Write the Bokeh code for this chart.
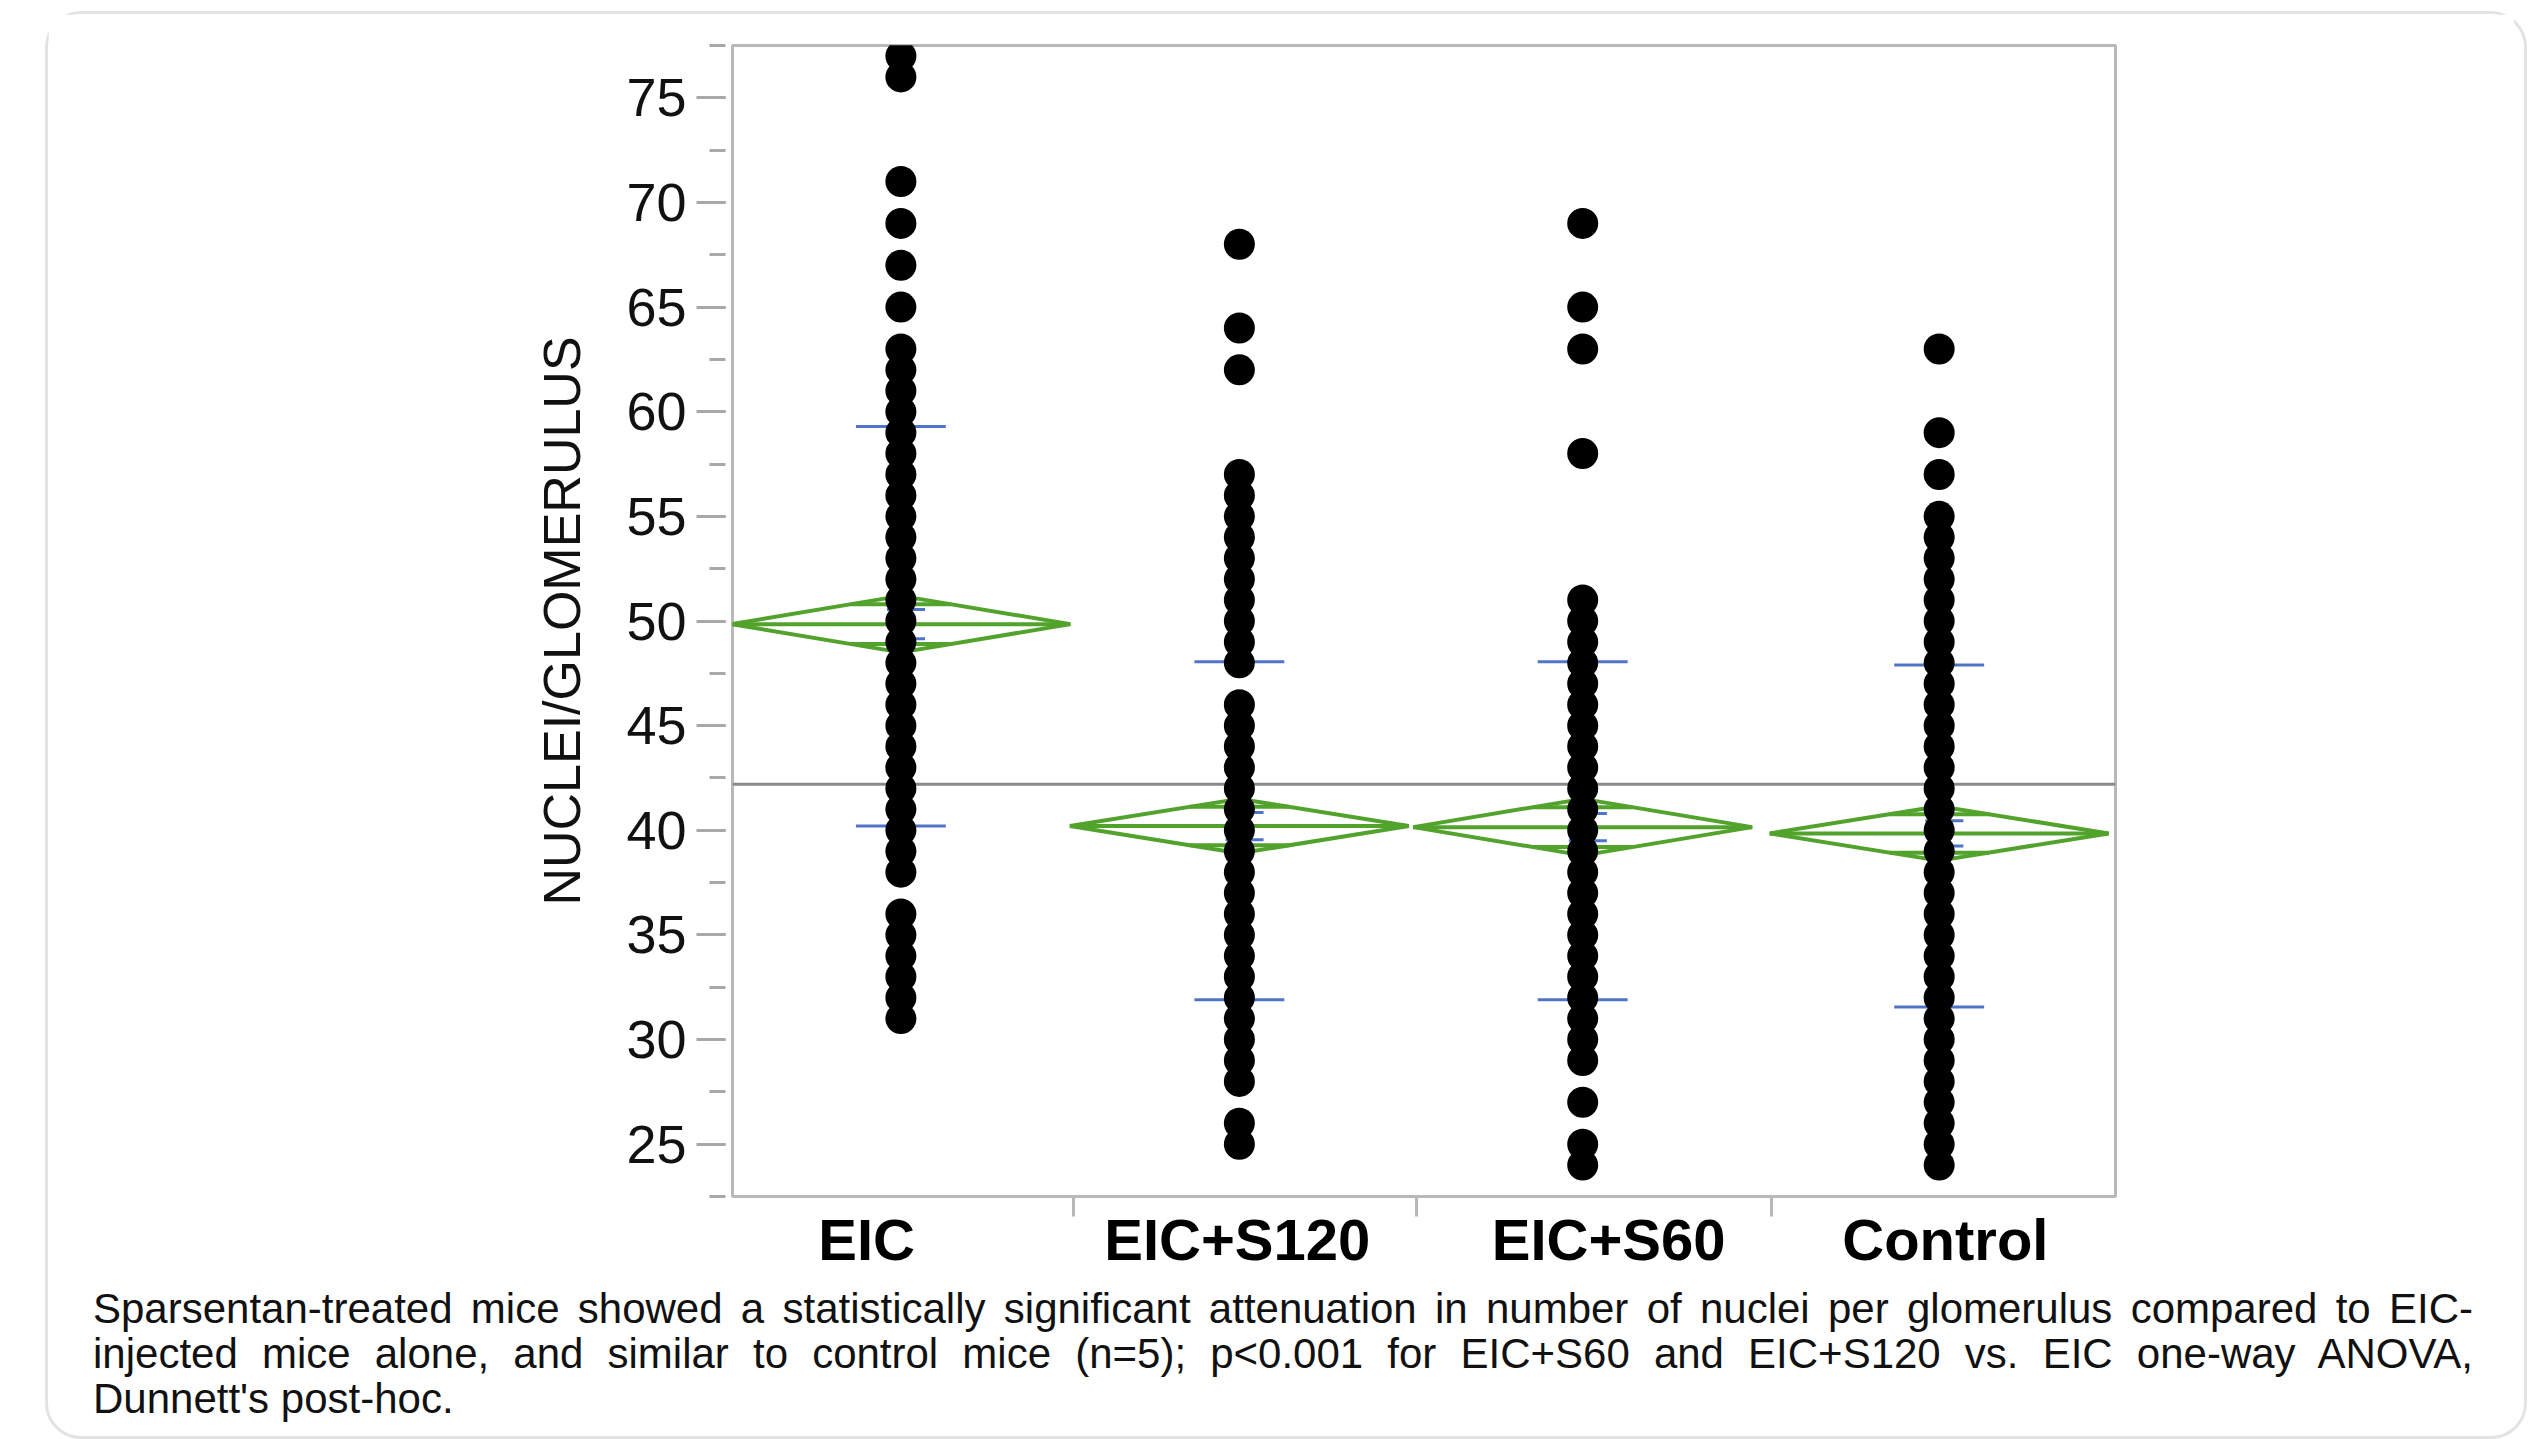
import numpy as np
from bokeh.plotting import figure
from bokeh.models import Range1d, LinearAxis, FixedTicker, SingleIntervalTicker, Div, ColumnDataSource
from bokeh.layouts import column
from bokeh.embed import file_html
from bokeh.resources import INLINE

# ---------------- data ----------------
groups = ["EIC", "EIC+S120", "EIC+S60", "Control"]

eic_values = [31, 32, 33, 34, 35, 36, 38, 39, 40, 41, 42, 43, 44, 45, 46, 47, 48, 49, 50,
              51, 52, 53, 54, 55, 56, 57, 58, 59, 60, 61, 62, 63, 65, 67, 69, 71, 76, 77, 78]
s120_values = [25, 26, 28, 29, 30, 31, 32, 33, 34, 35, 36, 37, 38, 39, 40, 41, 42, 43, 44,
               45, 46, 48, 49, 50, 51, 52, 53, 54, 55, 56, 57, 62, 64, 68]
s60_values = [24, 25, 27, 29, 30, 31, 32, 33, 34, 35, 36, 37, 38, 39, 40, 41, 42, 43, 44,
              45, 46, 47, 48, 49, 50, 51, 58, 63, 65, 69]
control_values = [24, 25, 26, 27, 28, 29, 30, 31, 32, 33, 34, 35, 36, 37, 38, 39, 40, 41,
                  42, 43, 44, 45, 46, 47, 48, 49, 50, 51, 52, 53, 54, 55, 57, 59, 63]
group_values = [eic_values, s120_values, s60_values, control_values]

means = [49.85, 40.2, 40.15, 39.85]
ci_hi = [51.2, 41.5, 41.5, 41.15]
ci_lo = [48.5, 38.9, 38.8, 38.55]
sd_hi = [59.3, 48.05, 48.05, 47.9]
sd_lo = [40.2, 31.9, 31.9, 31.55]
se_hi = [50.55, 40.85, 40.8, 40.45]
se_lo = [49.15, 39.55, 39.5, 39.25]
grand_mean = 42.2

y_title = "NUCLEI/GLOMERULUS"
caption_lines = [
    "Sparsentan-treated mice showed a statistically significant attenuation in number of nuclei per glomerulus compared to EIC-",
    "injected mice alone, and similar to control mice (n=5); p&lt;0.001 for EIC+S60 and EIC+S120 vs. EIC one-way ANOVA,",
    "Dunnett's post-hoc.",
]

# ---------------- layout (positions / styles) ----------------
point_pos = [0.487, 1.466, 2.459, 3.490]
label_pos = [0.388, 1.460, 2.534, 3.508]
sep_pos = [0.985, 1.978, 3.006]
diamond_hw = 0.49
sd_hw = 0.13
se_left, se_right = 0.04, 0.07

GREEN = "#52a32c"
BLUE = "#4f74c8"
FRAME = "#b8b8b8"
TICK = "#a8a8a8"

p = figure(width=2466, height=1267,
           x_range=Range1d(0, 4), y_range=Range1d(22.5, 77.5),
           output_backend="svg", toolbar_location=None,
           x_axis_location=None, y_axis_location=None,
           min_border_left=684, min_border_right=399,
           min_border_top=31, min_border_bottom=85,
           outline_line_color=FRAME, outline_line_width=3,
           background_fill_color="white", border_fill_color="white")
p.grid.visible = False

# y axis
yaxis = LinearAxis(ticker=SingleIntervalTicker(interval=5, num_minor_ticks=2),
                   axis_line_color=None,
                   major_tick_in=-7, major_tick_out=36,
                   minor_tick_in=-7, minor_tick_out=23,
                   major_tick_line_color=TICK, major_tick_line_width=3,
                   minor_tick_line_color=TICK, minor_tick_line_width=3,
                   major_label_standoff=10,
                   major_label_text_font="Liberation Sans",
                   major_label_text_font_size="54px",
                   major_label_text_color="#111111",
                   axis_label=y_title,
                   axis_label_standoff=32,
                   axis_label_text_font="Liberation Sans",
                   axis_label_text_font_size="52px",
                   axis_label_text_font_style="normal",
                   axis_label_text_color="#111111")
p.add_layout(yaxis, "left")

# x axis: labels at group positions, separator ticks between groups
xaxis = LinearAxis(ticker=FixedTicker(ticks=label_pos, minor_ticks=sep_pos),
                   major_label_overrides={pos: g for pos, g in zip(label_pos, groups)},
                   axis_line_color=None,
                   major_tick_line_color=None, major_tick_in=0, major_tick_out=0,
                   minor_tick_line_color=FRAME, minor_tick_line_width=3,
                   minor_tick_in=0, minor_tick_out=20,
                   major_label_standoff=-10,
                   major_label_text_font="Liberation Sans",
                   major_label_text_font_style="bold",
                   major_label_text_font_size="58px",
                   major_label_text_color="#000000")
p.add_layout(xaxis, "below")

# grand mean line
p.segment(x0=[0], x1=[4], y0=[grand_mean], y1=[grand_mean], line_color="#8a8a8a", line_width=3)

# means diamonds
xs, ys = [], []
for c, m, hi, lo in zip(point_pos, means, ci_hi, ci_lo):
    xs.append([c - diamond_hw, c, c + diamond_hw, c, c - diamond_hw])
    ys.append([m, hi, m, lo, m])
p.patches(xs, ys, fill_color=None, line_color=GREEN, line_width=4)

c_arr = np.array(point_pos)
m_arr = np.array(means)
p.segment(x0=c_arr - diamond_hw, x1=c_arr + diamond_hw, y0=m_arr, y1=m_arr,
          line_color=GREEN, line_width=4)
k = 1 / np.sqrt(2)
ov_hw = diamond_hw * (1 - k)
up = m_arr + (np.array(ci_hi) - m_arr) * k
dn = m_arr - (m_arr - np.array(ci_lo)) * k
p.segment(x0=c_arr - ov_hw, x1=c_arr + ov_hw, y0=up, y1=up, line_color=GREEN, line_width=4)
p.segment(x0=c_arr - ov_hw, x1=c_arr + ov_hw, y0=dn, y1=dn, line_color=GREEN, line_width=4)

# std dev lines and mean error bars
for arr in (sd_hi, sd_lo):
    p.segment(x0=c_arr - sd_hw, x1=c_arr + sd_hw, y0=arr, y1=arr, line_color=BLUE, line_width=3)
for arr in (se_hi, se_lo):
    p.segment(x0=c_arr - se_left, x1=c_arr + se_right, y0=arr, y1=arr, line_color=BLUE, line_width=3)

# points
px, py = [], []
for c, vals in zip(point_pos, group_values):
    px += [c] * len(vals)
    py += vals
src = ColumnDataSource(dict(x=px, y=py))
p.scatter("x", "y", source=src, size=31, marker="circle",
          fill_color="#000000", line_color=None)

# caption
line_style = "text-align:justify;text-align-last:justify;"
html = ('<div style="margin-left:40px;width:2380px;font-family:\'Liberation Sans\',Arial,sans-serif;'
        'font-size:42px;line-height:45px;color:#111111;">'
        f'<div style="{line_style}">{caption_lines[0]}</div>'
        f'<div style="{line_style}">{caption_lines[1]}</div>'
        f'<div>{caption_lines[2]}</div>'
        '</div>')
caption = Div(text=html, width=2466, height=145)

card = column(p, caption, margin=(11, 0, 0, 45),
              styles={"border": "3px solid #e3e3e3", "border-radius": "36px",
                      "background-color": "white"})

open("out.html", "w").write(file_html(card, INLINE))
